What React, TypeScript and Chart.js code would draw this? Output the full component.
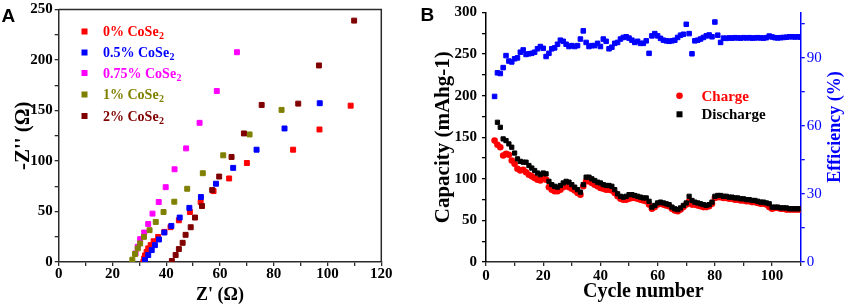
import React, { useEffect, useRef } from 'react';
import { Chart, registerables } from 'chart.js';

Chart.register(...registerables);

const FONT = '"Liberation Serif", "Times New Roman", serif';
const SANS = '"Liberation Sans", Arial, sans-serif';

// ---------- Panel A: Nyquist plot ----------
const eisNames = ['0% CoSe', '0.5% CoSe', '0.75% CoSe', '1% CoSe', '2% CoSe'];
const eisColors = ['#ff0000', '#0000ff', '#ff00ff', '#808000', '#800000'];

const zRe0 = [31.5, 31.8, 32.1, 32.7, 33.3, 34.2, 35.3, 37.0, 39.3, 41.6, 44.7, 48.8, 52.8, 57.6, 63.4, 70.0, 87.2, 97.0, 108.6];
const zIm0 = [0.3, 3.5, 6.5, 10.0, 13.5, 16.7, 20.5, 24.8, 29.8, 34.5, 41.3, 49.5, 59.4, 70.2, 82.7, 98.0, 111.2, 131.2, 154.8];

const zRe1 = [32.1, 33.3, 34.6, 35.8, 37.3, 39.3, 41.9, 45.0, 48.6, 52.9, 58.5, 64.9, 73.6, 84.0, 97.1];
const zIm1 = [2.0, 6.9, 11.8, 16.7, 22.3, 29.2, 35.7, 44.0, 53.6, 64.3, 77.5, 93.2, 111.2, 132.2, 157.2];

const zRe2 = [28.6, 29.4, 30.3, 31.8, 33.3, 34.9, 37.2, 39.8, 43.1, 47.4, 52.4, 58.8, 66.3];
const zIm2 = [8.5, 15.1, 22.6, 29.2, 37.7, 47.9, 59.4, 74.1, 91.8, 112.5, 137.8, 169.3, 207.7];

const zRe3 = [27.4, 28.4, 29.4, 30.3, 31.7, 33.8, 36.1, 39.0, 43.0, 47.8, 53.6, 61.2, 71.0, 82.9];
const zIm3 = [2.3, 7.9, 13.5, 18.4, 24.9, 31.5, 39.7, 49.5, 59.7, 72.5, 87.9, 105.6, 126.3, 150.6];

const zRe4 = [42.1, 43.5, 44.7, 46.1, 47.2, 49.1, 50.7, 53.3, 57.1, 59.7, 64.3, 68.9, 75.5, 89.1, 96.8, 109.9];
const zIm4 = [1.0, 6.9, 12.8, 19.0, 26.9, 34.4, 44.0, 55.4, 71.2, 84.6, 104.0, 127.3, 155.5, 156.8, 194.6, 239.0];

const zReAll = [zRe0, zRe1, zRe2, zRe3, zRe4];
const zImAll = [zIm0, zIm1, zIm2, zIm3, zIm4];

const xTicksA = [0, 10, 20, 30, 40, 50, 60, 70, 80, 90, 100, 110, 120];
const yTicksA = [0, 25, 50, 75, 100, 125, 150, 175, 200, 225, 250];

// ---------- Panel B: cycling ----------
const chargeStart = 3;
const charge = [
  146, 141, 138, 128, 130, 129, 122, 118, 112, 110,
  111, 108, 105, 103, 101, 99, 98, 101, 99, 90,
  87, 85, 85, 87, 90, 92, 90, 88, 86, 83,
  81, 91, 97, 97, 95, 93, 91, 89, 88, 87,
  87, 86, 83, 79, 76, 75, 75, 76, 77, 77,
  76, 75, 74, 73, 69, 64, 66, 69, 70, 69,
  68, 67, 64, 62, 61, 63, 66, 69, 73, 69,
  69, 68, 67, 66, 66, 67, 70, 77, 78, 78,
  77, 77, 76, 76, 75, 75, 74, 74, 73, 73,
  72, 72, 71, 70, 70, 69, 66, 64, 65, 65,
  64, 64, 63, 63, 63, 63, 63, 63,
];
const dischargeStart = 4;
const discharge = [
  168, 162, 148, 146, 142, 138, 131, 124, 121, 120,
  120, 116, 113, 110, 107, 105, 107, 106, 97, 93,
  91, 90, 92, 95, 97, 96, 93, 90, 87, 84,
  93, 102, 102, 100, 98, 96, 95, 93, 92, 92,
  91, 87, 82, 79, 78, 79, 81, 81, 80, 79,
  78, 77, 77, 73, 66, 68, 71, 72, 71, 70,
  69, 66, 64, 63, 65, 68, 71, 79, 74, 72,
  71, 70, 69, 68, 69, 72, 79, 80, 80, 79,
  79, 78, 78, 77, 77, 76, 76, 75, 75, 74,
  74, 73, 72, 72, 71, 70, 66, 66, 66, 65,
  65, 65, 64, 64, 64, 64, 64,
];
const efficiencyStart = 3;
const efficiency = [
  73, 83.4, 83.1, 85.7, 91, 88.6, 88.2, 89.6, 90, 92.5,
  93.5, 91.5, 91.8, 92, 92.5, 94, 95, 94.2, 90.6, 92,
  94, 94.4, 96, 97.8, 97.3, 96, 95, 95.4, 95, 95.4,
  98.3, 101.9, 96.8, 95, 95.4, 95.4, 96.4, 95, 98.3, 97.3,
  94, 94.7, 96.4, 96.8, 98.3, 99, 99.3, 98.7, 97.8, 96.8,
  97.3, 96.4, 96.4, 97.5, 92, 99.7, 100.7, 99.7, 98.6, 97.8,
  97.5, 97.3, 97.5, 97.8, 99, 100, 100.4, 104.8, 100.7, 91.8,
  97.5, 97.8, 98.3, 99, 99.7, 100.1, 99.3, 105.8, 100, 96.8,
  98.7,
  98.6, 98.8, 98.7, 98.9, 98.8, 98.7, 98.9, 98.8, 98.9, 98.7,
  98.8, 98.9, 98.8, 98.7, 98.9, 99.6, 99.2, 98.9, 98.8, 98.9,
  99.0, 99.1, 99.3, 99.3, 99.2, 99.3, 99.1,
];

const xTicksB = [0, 10, 20, 30, 40, 50, 60, 70, 80, 90, 100, 110];
const yTicksB = [0, 25, 50, 75, 100, 125, 150, 175, 200, 225, 250, 275, 300];
const effTicks = [0, 15, 30, 45, 60, 75, 90, 105];

const AXIS = '#2a2a2a';
const BLUE = '#0000ff';

const tickFont = (weight: string = 'bold') => ({ family: FONT, size: 15, weight, lineHeight: 1 } as any);
const titleFont = (size: number) => ({ family: FONT, size, weight: 'bold' } as any);

function linAxis(opts: any) {
  const { min, max, ticks, every, width, height, title, color = AXIS, labelColor = '#000', weight = 'bold', pad = 2, position } = opts;
  return {
    type: 'linear',
    position,
    min,
    max,
    afterBuildTicks: (s: any) => {
      s.ticks = ticks.map((v: number) => ({ value: v }));
    },
    afterFit: (s: any) => {
      if (width !== undefined) s.width = width;
      if (height !== undefined) s.height = height;
    },
    ticks: {
      autoSkip: false,
      maxRotation: 0,
      minRotation: 0,
      padding: pad,
      color: labelColor,
      font: tickFont(weight),
      callback: (v: any) => (Number(v) % every === 0 ? String(v) : ''),
    },
    grid: {
      display: true,
      drawOnChartArea: false,
      drawTicks: true,
      tickLength: 4,
      color,
      lineWidth: 1.3,
    },
    border: { display: true, color, width: 1.5 },
    title: title
      ? { display: true, text: title.text, color: title.color || '#000', font: titleFont(title.size), padding: title.padding }
      : { display: false },
  };
}

const panelAPlugin = {
  id: 'panelA',
  afterDraw(chart: any) {
    const { ctx, chartArea } = chart;
    ctx.save();
    // top + right frame
    ctx.strokeStyle = AXIS;
    ctx.lineWidth = 1.5;
    ctx.beginPath();
    ctx.moveTo(chartArea.left, chartArea.top);
    ctx.lineTo(chartArea.right, chartArea.top);
    ctx.lineTo(chartArea.right, chartArea.bottom);
    ctx.stroke();
    // legend
    const rowY = [31.5, 52.5, 73, 94.5, 116];
    eisNames.forEach((name, i) => {
      const y = rowY[i];
      ctx.fillStyle = eisColors[i];
      ctx.fillRect(81.5, y - 3, 6, 6);
      ctx.font = `bold 14px ${FONT}`;
      ctx.textBaseline = 'alphabetic';
      ctx.textAlign = 'left';
      ctx.fillText(name, 103, y + 4.5);
      const w = ctx.measureText(name).width;
      ctx.font = `bold 10px ${FONT}`;
      ctx.fillText('2', 103 + w + 0.5, y + 7.5);
    });
    // panel letter
    ctx.fillStyle = '#000';
    ctx.font = `bold 19px ${SANS}`;
    ctx.fillText('A', 1.5, 21.5);
    ctx.restore();
  },
};

const panelBPlugin = {
  id: 'panelB',
  afterDraw(chart: any) {
    const { ctx } = chart;
    ctx.save();
    // legend
    ctx.fillStyle = '#ff0000';
    ctx.beginPath();
    ctx.arc(259.5, 95.7, 3.3, 0, Math.PI * 2);
    ctx.fill();
    ctx.fillStyle = '#000';
    ctx.fillRect(256.5, 111.3, 6, 6);
    ctx.font = `bold 15px ${FONT}`;
    ctx.textAlign = 'left';
    ctx.textBaseline = 'alphabetic';
    ctx.fillStyle = '#ff0000';
    ctx.fillText('Charge', 281.5, 100.5);
    ctx.fillStyle = '#000';
    ctx.fillText('Discharge', 281.5, 119.3);
    // right axis title
    ctx.save();
    ctx.translate(415, 127);
    ctx.rotate(-Math.PI / 2);
    ctx.textAlign = 'center';
    ctx.textBaseline = 'middle';
    ctx.fillStyle = BLUE;
    ctx.font = `bold 18px ${FONT}`;
    ctx.fillText('Efficiency (%)', 0, 0);
    ctx.restore();
    // panel letter
    ctx.fillStyle = '#000';
    ctx.font = `bold 19px ${SANS}`;
    ctx.textAlign = 'left';
    ctx.fillText('B', 0.5, 20.5);
    ctx.restore();
  },
};

export default function App() {
  const refA = useRef<HTMLCanvasElement>(null);
  const refB = useRef<HTMLCanvasElement>(null);

  useEffect(() => {
    const dsA = eisNames.map((name, i) => ({
      label: name + '2',
      data: zReAll[i].map((x, j) => ({ x, y: zImAll[i][j] })),
      showLine: false,
      pointStyle: 'rect',
      pointRadius: 3.5,
      pointBorderWidth: 1,
      pointBackgroundColor: eisColors[i],
      pointBorderColor: eisColors[i],
      order: 5 - i,
    }));

    const chartA = new Chart(refA.current as HTMLCanvasElement, {
      type: 'scatter',
      data: { datasets: dsA as any },
      options: {
        responsive: false,
        animation: false,
        devicePixelRatio: 1,
        layout: { padding: { top: 8, right: 38.7, bottom: 0, left: 0 } },
        plugins: { legend: { display: false }, tooltip: { enabled: false } },
        scales: {
          x: linAxis({
            position: 'bottom', min: 0, max: 120, ticks: xTicksA, every: 20, height: 44, pad: 1,
            title: { text: "Z' (\u03A9)", size: 18, padding: { top: 0, bottom: 0 } },
          }),
          y: linAxis({
            position: 'left', min: 0, max: 250, ticks: yTicksA, every: 50, width: 58.7, pad: 2,
            title: { text: "-Z'' (\u03A9)", size: 21, padding: { top: 11, bottom: 0 } },
          }),
        } as any,
      },
      plugins: [panelAPlugin],
    } as any);

    const chartB = new Chart(refB.current as HTMLCanvasElement, {
      type: 'scatter',
      data: {
        datasets: [
          {
            label: 'Discharge',
            data: discharge.map((v, i) => ({ x: dischargeStart + i, y: v })),
            yAxisID: 'y',
            pointStyle: 'rect',
            pointRadius: 3,
            pointBorderWidth: 1,
            pointBackgroundColor: '#000',
            pointBorderColor: '#000',
            order: 1,
          },
          {
            label: 'Charge',
            data: charge.map((v, i) => ({ x: chargeStart + i, y: v })),
            yAxisID: 'y',
            pointStyle: 'circle',
            pointRadius: 3.3,
            pointBorderWidth: 0,
            pointBackgroundColor: '#ff0000',
            pointBorderColor: '#ff0000',
            order: 2,
          },
          {
            label: 'Efficiency',
            data: efficiency.map((v, i) => ({ x: efficiencyStart + i, y: v })),
            yAxisID: 'y1',
            pointStyle: 'rect',
            pointRadius: 3.2,
            pointBorderWidth: 1,
            pointBackgroundColor: BLUE,
            pointBorderColor: BLUE,
            order: 3,
          },
        ] as any,
      },
      options: {
        responsive: false,
        animation: false,
        devicePixelRatio: 1,
        layout: { padding: { top: 8, right: 0, bottom: 0, left: 0 } },
        plugins: { legend: { display: false }, tooltip: { enabled: false } },
        scales: {
          x: linAxis({
            position: 'bottom', min: 0, max: 110, ticks: xTicksB, every: 20, height: 44, pad: 2.5,
            title: { text: 'Cycle number', size: 20, padding: { top: 0, bottom: 2.5 } },
          }),
          y: linAxis({
            position: 'left', min: 0, max: 300, ticks: yTicksB, every: 50, width: 66, pad: 5,
            color: '#000',
            title: { text: 'Capacity (mAhg-1)', size: 21, padding: { top: 11.4, bottom: 0 } },
          }),
          y1: linAxis({
            position: 'right', min: 0, max: 110, ticks: effTicks, every: 30, width: 50.3, pad: 2,
            color: BLUE, labelColor: BLUE, weight: 'normal',
          }),
        } as any,
      },
      plugins: [panelBPlugin],
    } as any);

    return () => {
      chartA.destroy();
      chartB.destroy();
    };
  }, []);

  return (
    <div style={{ position: 'fixed', left: 0, top: 0, width: 851, height: 306, background: '#fff', overflow: 'hidden' }}>
      <canvas ref={refA} width={420} height={306} style={{ position: 'absolute', left: 0, top: 0 }} />
      <canvas ref={refB} width={431} height={306} style={{ position: 'absolute', left: 420, top: 0 }} />
    </div>
  );
}
